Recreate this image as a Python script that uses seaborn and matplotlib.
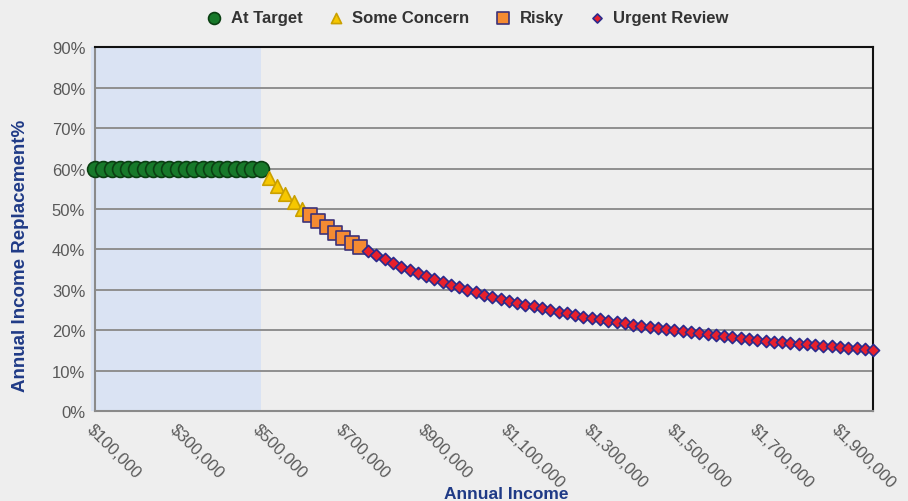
import matplotlib.pyplot as plt
import seaborn as sns
import pandas as pd
from matplotlib.ticker import PercentFormatter, FuncFormatter

# annual income in $20k steps, replacement ratio (%)
at_target_income = list(range(100000, 500001, 20000))
at_target_pct = [60.0] * 21

concern_income = [520000, 540000, 560000, 580000, 600000]
concern_pct = [57.7, 55.6, 53.6, 51.7, 50.0]

risky_income = [620000, 640000, 660000, 680000, 700000, 720000, 740000]
risky_pct = [48.4, 46.9, 45.5, 44.1, 42.9, 41.7, 40.5]

urgent_income = list(range(760000, 1980001, 20000))
urgent_pct = [39.5, 38.5, 37.5, 36.6, 35.7, 34.9, 34.1, 33.3, 32.6, 31.9,
              31.3, 30.6, 30.0, 29.4, 28.8, 28.3, 27.8, 27.3, 26.8, 26.3,
              25.9, 25.4, 25.0, 24.6, 24.2, 23.8, 23.4, 23.1, 22.7, 22.4,
              22.1, 21.7, 21.4, 21.1, 20.8, 20.5, 20.3, 20.0, 19.7, 19.5,
              19.2, 19.0, 18.8, 18.5, 18.3, 18.1, 17.9, 17.6, 17.4, 17.2,
              17.0, 16.9, 16.7, 16.5, 16.3, 16.1, 16.0, 15.8, 15.6, 15.5,
              15.3, 15.2]

tick_income = list(range(100000, 1900001, 200000))

series = [
    ('At Target', at_target_income, at_target_pct, 'o', 130, '#17792a', '#0a3f12'),
    ('Some Concern', concern_income, concern_pct, '^', 95, '#f6c700', '#caa000'),
    ('Risky', risky_income, risky_pct, 's', 115, '#f58b32', '#3d3278'),
    ('Urgent Review', urgent_income, urgent_pct, 'D', 38, '#e8202c', '#2b2a8c'),
]

bg = '#eeeeee'
label_blue = '#1f3a86'

sns.set_style('white')
plt.rcParams['font.family'] = ['Liberation Sans', 'DejaVu Sans']

fig = plt.figure(figsize=(9.08, 5.02), dpi=100, facecolor=bg)
ax = fig.add_axes([0.1046, 0.179, 0.857, 0.725])
ax.set_facecolor(bg)

ax.axvspan(90000, 500000, color='#dae3f3', zorder=0, lw=0, clip_on=False)

for name, xs, ys, mk, size, fc, ec in series:
    df = pd.DataFrame({'income': xs, 'pct': ys})
    sns.scatterplot(data=df, x='income', y='pct', marker=mk, s=size,
                    color=fc, edgecolor=ec, linewidth=1.2, label=name,
                    ax=ax, zorder=3, clip_on=False)

ax.set_xlim(100000, 1980000)
ax.set_ylim(0, 90)
ax.set_yticks(range(0, 91, 10))
ax.yaxis.set_major_formatter(PercentFormatter(decimals=0))
ax.set_xticks(tick_income)
ax.xaxis.set_major_formatter(FuncFormatter(lambda v, p: f'${v:,.0f}'))
ax.grid(axis='y', color='#8f8f8f', lw=1.4, zorder=1)
ax.set_axisbelow(True)
ax.tick_params(length=0, labelsize=12, colors='#595959', pad=7)
plt.setp(ax.get_xticklabels(), rotation=-45, ha='left', va='top',
         rotation_mode='anchor')

for side in ['left', 'bottom']:
    ax.spines[side].set_color('#8a8a8a')
    ax.spines[side].set_linewidth(1.5)
for side in ['top', 'right']:
    ax.spines[side].set_color('#111111')
    ax.spines[side].set_linewidth(1.5)

ax.set_ylabel('Annual Income Replacement%', color=label_blue, fontsize=13.5,
              fontweight='bold')
ax.yaxis.set_label_coords(-0.085, 0.43)
ax.set_xlabel('')
fig.text(0.557, 0.0, 'Annual Income', color=label_blue, fontsize=12.5,
         fontweight='bold', ha='center', va='bottom')

ax.legend(loc='upper center', bbox_to_anchor=(0.51, 1.008), ncol=4,
          bbox_transform=fig.transFigure, frameon=False, handletextpad=0.0,
          columnspacing=1.0, markerscale=0.75,
          prop={'weight': 'bold', 'size': 12}, labelcolor='#333333')

fig.savefig('out.png', dpi=100, facecolor=bg)
